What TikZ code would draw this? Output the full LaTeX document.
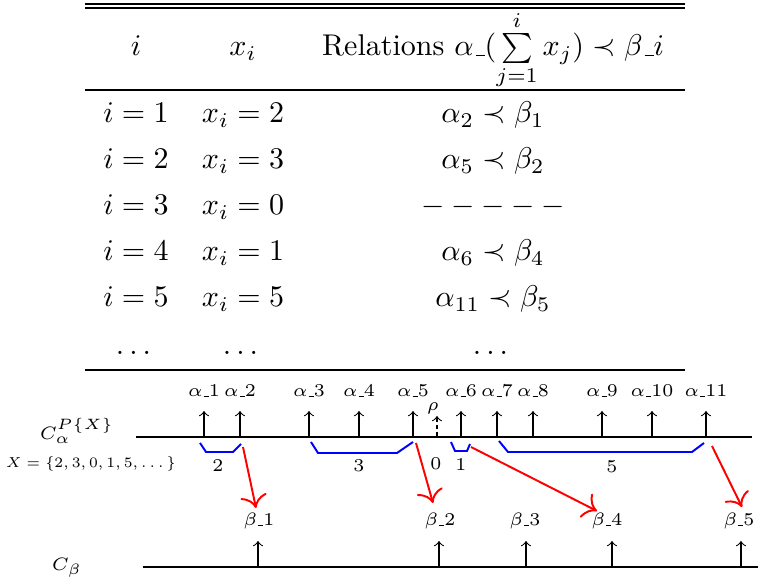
\documentclass[tikz,border=0pt]{standalone}
\usepackage{amsmath}
\usetikzlibrary{arrows.meta}

\newcommand{\ubar}{\kern.06em\vbox{\hrule width .3em}}

\begin{document}
\begin{tikzpicture}[
    x=0.3333pt, y=-0.3333pt,
    >=to,
    cell/.style={anchor=base, inner sep=0pt},
    lab/.style={font=\fontsize{6}{7}\selectfont, inner sep=0pt},
    uparr/.style={->, line width=0.35pt},
    brace/.style={blue, line width=0.65pt},
    maparr/.style={-{To[scale=1.4]}, red, line width=0.65pt},
    axis/.style={line width=0.8pt}
]
\useasboundingbox (0,0) rectangle (758,586);

    % Table rules
    \draw[line width=0.5pt] (85,4) -- (685,4);
    \draw[line width=0.5pt] (85,8) -- (685,8);
    \draw[line width=0.45pt] (85,90) -- (685,90);
    \draw[line width=0.45pt] (85,370) -- (685,370);

    % Header
    \node[cell] (hi) at (136,56) {$i$};
    \node[cell] (hx) at (243,56) {$x_i$};
    \node[cell] (hr) at (493,56) {Relations $\alpha\ubar(\sum\limits_{j=1}^{i} x_j)\prec\beta\ubar i$};

    % Rows
    \foreach \n/\v/\rel [count=\k from 0] in {1/2/{\alpha_2\prec\beta_1},
        2/3/{\alpha_5\prec\beta_2}, 3/0/{-----},
        4/1/{\alpha_6\prec\beta_4}, 5/5/{\alpha_{11}\prec\beta_5}} {
        \node[cell] (i\n) at (136,123+46*\k) {$i=\n$};
        \node[cell] (x\n) at (243,123+46*\k) {$x_i=\v$};
        \node[cell] (r\n) at (493,123+46*\k) {$\rel$};
    }
    \node[cell] (idots) at (136,355) {$\dots$};
    \node[cell] (xdots) at (243,355) {$\dots$};
    \node[cell] (rdots) at (493,355) {$\dots$};

    % Chain C_alpha
    \draw[axis] (136,437) -- (752,437);
    \node[lab] (calpha) at (77,431) {$C_\alpha^{P\{X\}}$};
    \node[lab] (xset) at (91,464) {\scalebox{0.8}{$X=\{2,3,0,1,5,\dots\}$}};
    \foreach \n/\xx in {1/204, 2/240, 3/309, 4/359, 5/413, 6/461,
        7/497, 8/533, 9/602, 10/652, 11/706} {
        \coordinate (p\n) at (\xx,437);
        \coordinate (t\n) at (\xx,411);
        \draw[uparr] (p\n) -- (t\n);
        \node[lab, anchor=base] (al\n) at (\xx,397) {$\alpha$\ubar\n};
    }
    % rho
    \coordinate (prho) at (437,437);
    \coordinate (trho) at (437,416);
    \draw[uparr, dash pattern=on 1.5pt off 1pt] (prho) -- (trho);
    \node[lab] (rho) at (433,408) {$\rho$};

    % Blocks x_i
    \draw[brace] (200,443) -- (206,452) -- (233,452) -- (241,444);
    \draw[brace] (311,442) -- (318,453) -- (397,453) -- (413,442);
    \draw[brace] (451,442) -- (455,451) -- (467,451) -- (470,444);
    \draw[brace] (499,441) -- (508,452) -- (692,452) -- (704,443);
    \node[lab] (n2) at (218,466) {$2$};
    \node[lab] (n3) at (359,466) {$3$};
    \node[lab] (n0) at (436,464) {$0$};
    \node[lab] (n1) at (461,465) {$1$};
    \node[lab] (n5) at (612,467) {$5$};

    % Chain C_beta
    \draw[axis] (143,567) -- (758,567);
    \node[lab] (cbeta) at (67,568) {$C_{\beta}$};
    \foreach \n/\xx/\lx in {1/258/259, 2/439/440, 3/526/525, 4/612/607, 5/741/739} {
        \coordinate (q\n) at (\xx,567);
        \coordinate (u\n) at (\xx,541);
        \draw[uparr] (q\n) -- (u\n);
        \node[lab, anchor=base] (be\n) at (\lx,526) {$\beta$\ubar\n};
    }

    % Relations alpha -> beta
    \coordinate (s1) at (243,447);
    \coordinate (e1) at (256,508);
    \coordinate (s2) at (416,443);
    \coordinate (e2) at (433,503);
    \coordinate (s3) at (471,447);
    \coordinate (e3) at (597,511);
    \coordinate (s4) at (712,446);
    \coordinate (e4) at (742,507);
    \foreach \m in {1,...,4}
        \draw[maparr] (s\m) -- (e\m);

\end{tikzpicture}
\end{document}
